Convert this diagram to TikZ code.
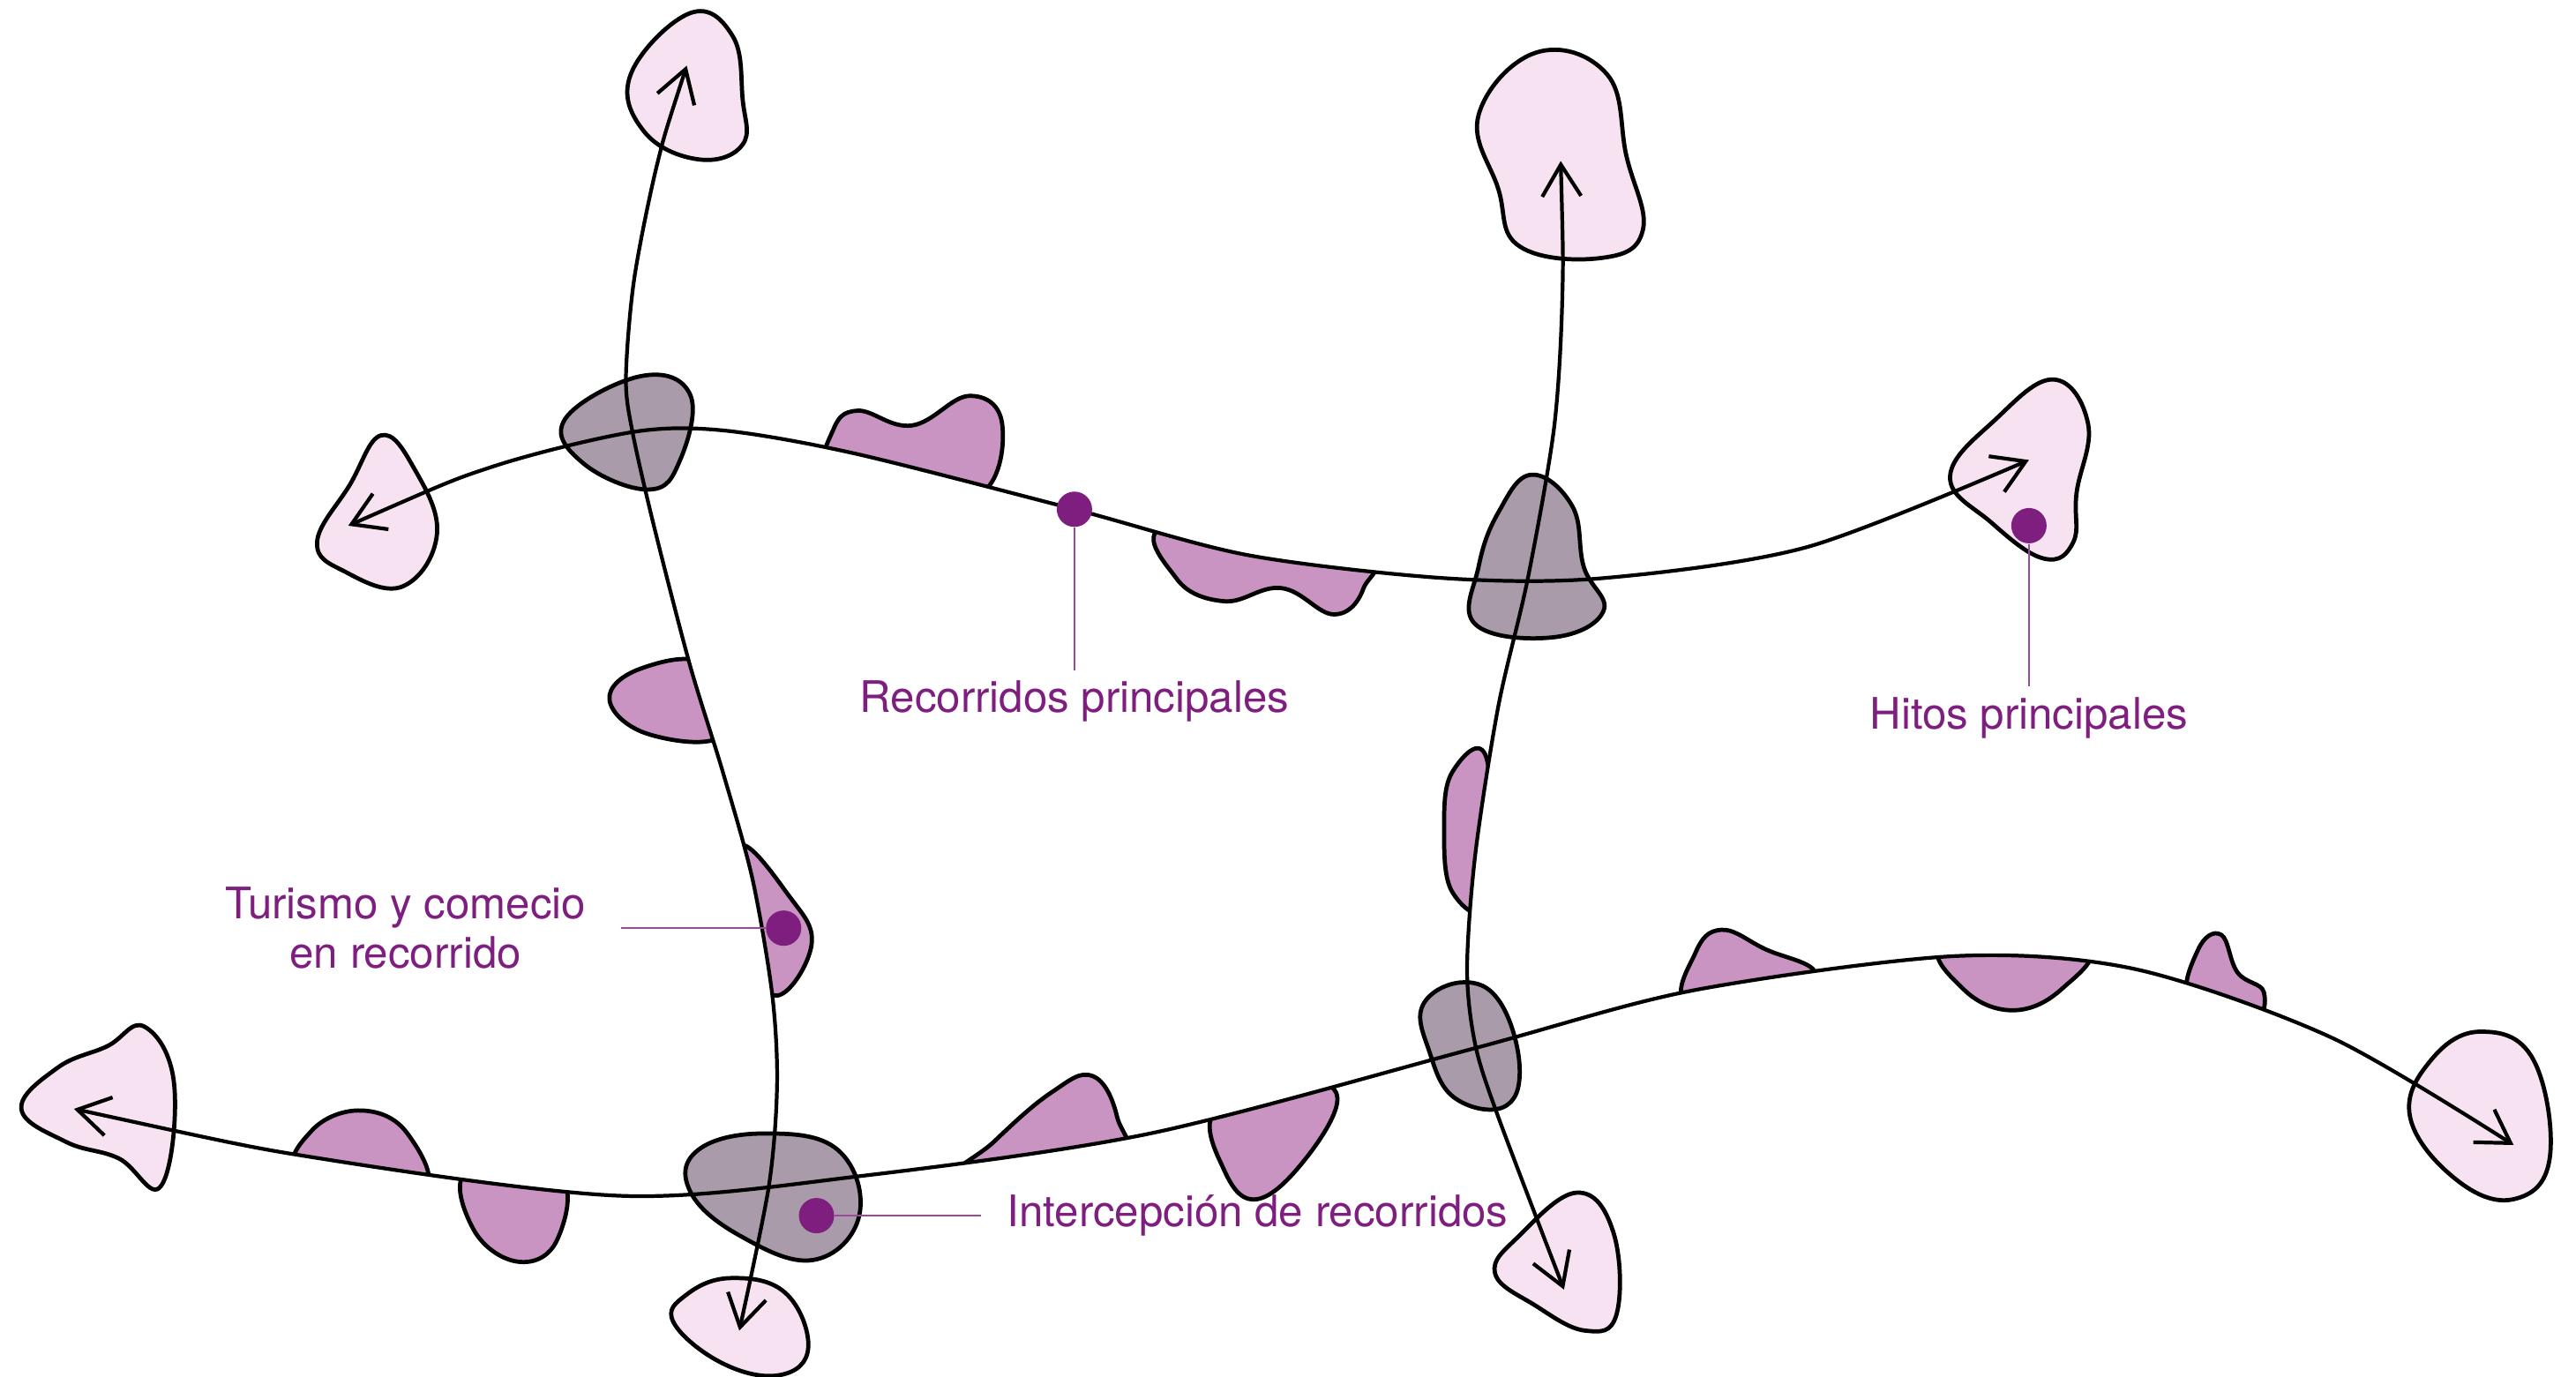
\documentclass[tikz,border=0pt]{standalone}
\usepackage{fontspec}
\setmainfont{TeX Gyre Heros}
\usetikzlibrary{arrows.meta}
\definecolor{colHito}{HTML}{F6E2F0}
\definecolor{colCruce}{HTML}{A99BAA}
\definecolor{colComercio}{HTML}{C994C2}
\definecolor{colMorado}{HTML}{7E1F80}
\definecolor{colGuia}{HTML}{9A4A98}
% recorridos principales
\newcommand\rutaNorte{plot[smooth] coordinates {(212,320) (300,284) (385,263) (440,262) (520,276) (654,310) (760,338) (880,352) (975,352) (1100,333) (1235,280)}}
\newcommand\rutaSur{plot[smooth] coordinates {(45,675) (200,706) (380,728) (523,716) (700,690) (898,638) (1030,603) (1190,582) (1300,590) (1420,632) (1530,697)}}
\newcommand\rutaOeste{plot[smooth] coordinates {(418,40) (400,100) (386,170) (381,230) (385,263) (398,320) (420,405) (440,470) (458,535) (470,605) (473,660) (468,722) (450,810)}}
\newcommand\rutaEste{plot[smooth] coordinates {(950,98) (951,180) (946,260) (930,352) (912,430) (898,520) (893,590) (898,636) (912,680) (952,785)}}
\begin{document}
\begin{tikzpicture}[x=0.018622cm, y=-0.018622cm,
  >={Straight Barb[length=3.6mm,width=4.4mm]},
  ruta/.style={line width=1.2pt, <->},
  hito/.style={draw, line width=1.35pt, fill=colHito, tension=.7},
  cruce/.style={draw, line width=1.35pt, fill=colCruce, tension=.7},
  comercio/.style={draw, line width=1.35pt, fill=colComercio, tension=.7},
  punto/.style={circle, fill=colMorado, inner sep=0pt, minimum size=0.4cm},
  etiqueta/.style={text=colMorado, inner sep=0pt, align=center, font=\fontsize{14}{15.9}\selectfont},
  guia/.style={draw=colGuia, line width=0.6pt}]
\useasboundingbox (0,0) rectangle (1568,838);

% comercio junto a los recorridos
\begin{scope}
  \clip \rutaNorte -- (1235,-100) -- (212,-100) -- cycle;
  \draw[comercio] plot[smooth cycle] coordinates {(505,290) (507,262) (522,250) (555,259) (590,241) (610,258) (598,300) (550,305)};
\end{scope}
\begin{scope}
  \clip \rutaNorte -- (1235,900) -- (212,900) -- cycle;
  \draw[comercio] plot[smooth cycle] coordinates {(712,320) (716,352) (745,366) (780,358) (812,374) (830,358) (826,335)};
\end{scope}
\begin{scope}
  \clip \rutaOeste -- (-100,810) -- (-100,40) -- cycle;
  \draw[comercio] plot[smooth cycle] coordinates {(430,405) (390,407) (371,426) (395,447) (440,447)};
\end{scope}
\begin{scope}
  \clip \rutaOeste -- (1700,810) -- (1700,40) -- cycle;
  \draw[comercio] plot[smooth cycle] coordinates {(450,515) (480,545) (494,575) (472,606) (452,570)};
\end{scope}
\begin{scope}
  \clip \rutaEste -- (-100,785) -- (-100,98) -- cycle;
  \draw[comercio] plot[smooth cycle] coordinates {(905,462) (884,470) (879,505) (884,543) (905,548)};
\end{scope}
\begin{scope}
  \clip \rutaSur -- (1530,-100) -- (45,-100) -- cycle;
  \draw[comercio] plot[smooth cycle] coordinates {(184,715) (190,688) (220,676) (248,690) (256,725)};
  \draw[comercio] plot[smooth cycle] coordinates {(582,720) (605,695) (640,665) (665,655) (680,680) (678,710)};
  \draw[comercio] plot[smooth cycle] coordinates {(1028,612) (1032,580) (1048,566) (1075,578) (1105,592) (1090,612)};
  \draw[comercio] plot[smooth cycle] coordinates {(1333,610) (1338,578) (1352,569) (1362,592) (1378,604) (1370,622)};
\end{scope}
\begin{scope}
  \clip \rutaSur -- (1530,900) -- (45,900) -- cycle;
  \draw[comercio] plot[smooth cycle] coordinates {(285,712) (288,748) (315,768) (339,755) (340,715)};
  \draw[comercio] plot[smooth cycle] coordinates {(740,675) (745,712) (765,730) (795,705) (814,668) (790,660)};
  \draw[comercio] plot[smooth cycle] coordinates {(1185,575) (1195,602) (1225,615) (1255,602) (1268,576)};
\end{scope}

% cruces
\draw[cruce] plot[smooth cycle] coordinates {(390,229) (420,240) (414,280) (395,298) (355,282) (344,255)};
\draw[cruce] plot[smooth cycle] coordinates {(932,289) (957,308) (964,345) (976,372) (945,388) (898,380) (900,345) (912,312)};
\draw[cruce] plot[smooth cycle] coordinates {(890,598) (913,610) (925,650) (915,674) (885,668) (870,640) (866,612)};
\draw[cruce] plot[smooth cycle] coordinates {(465,690) (510,700) (523,740) (495,767) (450,752) (420,725) (425,700)};

% hitos
\draw[hito] plot[smooth cycle] coordinates {(420,8) (446,22) (452,60) (452,88) (425,97) (392,80) (384,45)};
\draw[hito] plot[smooth cycle] coordinates {(232,265) (252,285) (266,325) (245,357) (210,348) (193,330) (213,295)};
\draw[hito] plot[smooth cycle] coordinates {(1250,231) (1271,258) (1264,300) (1262,330) (1244,340) (1212,318) (1187,290) (1215,255)};
\draw[hito] plot[smooth cycle] coordinates {(935,32) (978,45) (990,95) (1000,140) (975,157) (925,150) (912,115) (900,70)};
\draw[hito] plot[smooth cycle] coordinates {(88,625) (106,660) (98,722) (72,705) (40,695) (13,675) (35,650) (65,637)};
\draw[hito] plot[smooth cycle] coordinates {(445,778) (478,787) (492,820) (475,837) (440,830) (410,805) (418,788)};
\draw[hito] plot[smooth cycle] coordinates {(960,726) (982,750) (984,800) (965,810) (935,795) (910,775) (925,752)};
\draw[hito] plot[smooth cycle] coordinates {(1510,628) (1542,645) (1552,705) (1530,730) (1495,718) (1467,680) (1480,645)};

\draw[ruta] \rutaNorte;
\draw[ruta] \rutaSur;
\draw[ruta] \rutaOeste;
\draw[ruta] \rutaEste;

% leyenda
\node[punto] (pRec) at (654,310) {};
\node[punto] (pHit) at (1235,320) {};
\node[punto] (pTur) at (477,565) {};
\node[punto] (pInt) at (497,740) {};
\node[etiqueta, outer sep=0.12cm, anchor=north] (lRec) at (654,408) {Recorridos principales};
\node[etiqueta, outer sep=0.12cm, anchor=north] (lHit) at (1235,418) {Hitos principales};
\node[etiqueta, outer sep=0.4cm, anchor=east] (lTur) at (378,565) {Turismo y comecio\\en recorrido};
\node[etiqueta, outer sep=0.3cm, anchor=west] (lInt) at (597,740) {Intercepción de recorridos};
\draw[guia] (pRec) -- (lRec);
\draw[guia] (pHit) -- (lHit);
\draw[guia] (pTur) -- (lTur);
\draw[guia] (pInt) -- (lInt);

\end{tikzpicture}
\end{document}
